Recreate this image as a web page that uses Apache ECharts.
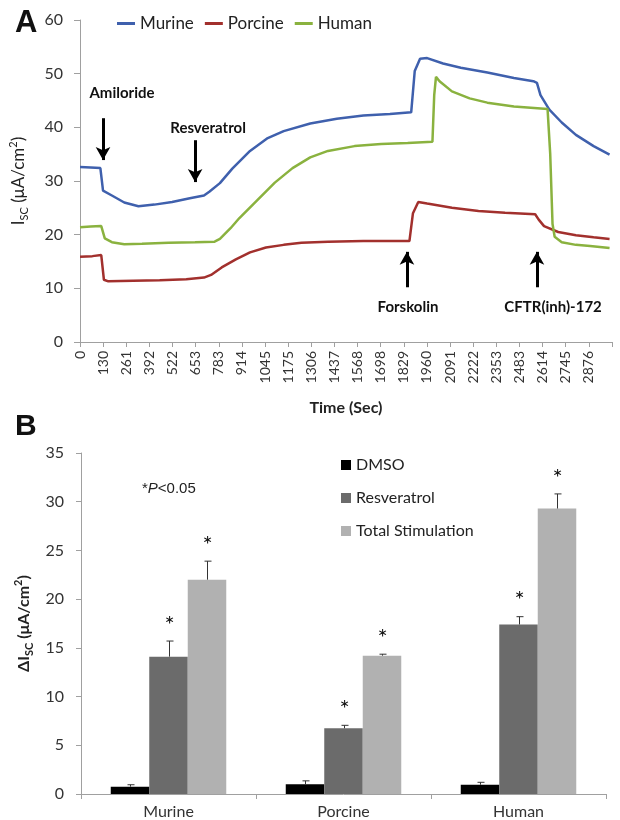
<!DOCTYPE html>
<html>
<head>
<meta charset="utf-8">
<script src="https://cdn.jsdelivr.net/npm/echarts@6/dist/echarts.min.js"></script>
<style>
html, body { margin: 0; padding: 0; background: #fff; }
#main { width: 620px; height: 820px; }
</style>
</head>
<body>
<div id="main"></div>
<script>
// panel A: short-circuit current traces (time in sec, Isc in uA/cm2)
var timeLabels = ['0','130','261','392','522','653','783','914','1045','1175','1306','1437',
	'1568','1698','1829','1960','2091','2222','2353','2483','2614','2745','2876'];
var murine = [[0,32.6],[60,32.5],[115,32.4],[130,28.2],[180,27.3],[250,26.0],[330,25.3],[420,25.6],
	[520,26.1],[620,26.8],[700,27.3],[730,28.0],[790,29.6],[860,32.3],[960,35.6],[1060,38.0],
	[1150,39.3],[1300,40.7],[1450,41.6],[1600,42.2],[1750,42.5],[1870,42.8],[1890,50.5],[1920,52.8],
	[1960,52.9],[2050,51.9],[2150,51.1],[2300,50.2],[2450,49.2],[2560,48.6],[2580,48.3],[2600,46.0],
	[2650,43.3],[2720,40.9],[2800,38.6],[2900,36.5],[2990,34.9]];
var porcine = [[0,15.9],[70,16.0],[120,16.2],[135,11.6],[160,11.3],[300,11.4],[450,11.5],[600,11.7],
	[700,12.0],[740,12.5],[800,13.9],[880,15.4],[960,16.7],[1050,17.6],[1150,18.1],[1250,18.5],
	[1400,18.7],[1600,18.8],[1860,18.8],[1880,24.0],[1910,26.1],[1960,25.8],[2100,25.0],[2250,24.4],
	[2400,24.1],[2570,23.8],[2590,22.8],[2620,21.6],[2700,20.5],[2800,19.9],[2900,19.5],[2990,19.2]];
var human = [[0,21.4],[60,21.5],[120,21.6],[140,19.3],[180,18.6],[250,18.2],[350,18.3],[500,18.5],
	[650,18.6],[760,18.7],[790,19.2],[850,21.2],[900,23.1],[1000,26.4],[1100,29.7],[1200,32.4],
	[1300,34.4],[1400,35.6],[1550,36.5],[1700,36.9],[1850,37.1],[1990,37.3],[2000,46.0],[2010,49.4],
	[2030,48.6],[2100,46.7],[2200,45.4],[2300,44.6],[2450,43.9],[2640,43.4],[2655,35.0],[2668,22.0],
	[2680,19.6],[2720,18.6],[2800,18.1],[2880,17.9],[2990,17.5]];
// drug additions: [label, time, arrow from, arrow to, label y, label x]
var additions = [
	['Amiloride', 130, 41.7, 33.9, 46.4, 237],
	['Resveratrol', 650, 37.6, 29.8, 39.9, 723],
	['Forskolin', 1846, 10.2, 16.8, 6.5, 1852],
	['CFTR(inh)-172', 2580, 10.2, 16.8, 6.5, 2671]
];

// panel B: delta Isc
var species = ['Murine', 'Porcine', 'Human'];
var dmso = [0.75, 1.0, 0.95];
var resveratrol = [14.1, 6.75, 17.4];
var totalStim = [22.0, 14.2, 29.3];
var dmsoErr = [0.2, 0.35, 0.25];
var resveratrolErr = [1.6, 0.3, 0.8];
var totalStimErr = [1.9, 0.15, 1.5];
var dmsoSig = [0, 0, 0];
var resveratrolSig = [1, 1, 1];
var totalStimSig = [1, 1, 1];

var FONT = 'Lato';
var GAP = 0.34;

function errData(vals, errs, sig) {
	return vals.map(function (v, i) { return [i, v, errs[i], sig[i]]; });
}

// error bar (upper half only) + significance star, drawn over each bar
function errSeries(name, vals, errs, sig, off) {
	return {
		type: 'custom',
		name: name + ' err',
		xAxisIndex: 1,
		yAxisIndex: 1,
		silent: true,
		z: 5,
		data: errData(vals, errs, sig),
		renderItem: function (params, api) {
			var cat = api.value(0), v = api.value(1), e = api.value(2), s = api.value(3);
			var band = api.size([1, 0])[0];
			var bw = band * (1 - GAP) / 3;
			var p = api.coord([cat, v]);
			var x = Math.round(p[0] + off * bw) + 0.5;
			var yTop = api.coord([cat, v + e])[1];
			var kids = [
				{ type: 'line', shape: { x1: x, y1: p[1], x2: x, y2: yTop }, style: { stroke: '#333', lineWidth: 1 } },
				{ type: 'line', shape: { x1: x - 3, y1: yTop, x2: x + 4, y2: yTop }, style: { stroke: '#333', lineWidth: 1 } }
			];
			if (s) {
				kids.push({ type: 'text', x: x, y: yTop - 4, style: { text: '*', fontSize: 24, fontFamily: FONT, fill: '#111', align: 'center', verticalAlign: 'bottom' } });
			}
			return { type: 'group', children: kids };
		}
	};
}

var axisGray = '#a0a0a0';
var labelColor = '#333';

var myChart = echarts.init(document.getElementById('main'));
var option = {
	animation: false,
	backgroundColor: '#fff',
	textStyle: { fontFamily: FONT },
	graphic: [
		{ type: 'text', left: 15, top: 8, style: { text: 'A', fontSize: 31, fontWeight: 'bold', fontFamily: 'Liberation Sans', fill: '#111' } },
		{ type: 'text', left: 15, top: 412, style: { text: 'B', fontSize: 30, fontWeight: 'bold', fontFamily: 'Liberation Sans', fill: '#111' } },
		{ type: 'text', left: 142, top: 481, style: { text: '*{i|P}<0.05', fontSize: 15, fontFamily: 'Liberation Sans', fill: '#222',
			rich: { i: { fontStyle: 'italic', fontSize: 15, fontFamily: 'Liberation Sans', fill: '#222' } } } }
	],
	legend: [
		{
			data: ['Murine', 'Porcine', 'Human'],
			left: 112, top: 10,
			icon: 'rect', itemWidth: 18, itemHeight: 3, itemGap: 11,
			textStyle: { fontSize: 17, color: '#222', fontFamily: FONT }
		},
		{
			data: ['DMSO', 'Resveratrol', 'Total Stimulation'],
			orient: 'vertical',
			left: 336, top: 452,
			icon: 'rect', itemWidth: 10, itemHeight: 10, itemGap: 17,
			textStyle: { fontSize: 16, color: '#222', fontFamily: FONT }
		}
	],
	grid: [
		{ left: 80, top: 20, width: 532, height: 322 },
		{ left: 81, top: 453, width: 525, height: 341 }
	],
	xAxis: [
		{
			type: 'value', gridIndex: 0, min: 0, max: 3003.8, interval: 130.6,
			name: 'Time (Sec)', nameLocation: 'middle', nameGap: 58,
			nameTextStyle: { fontSize: 16, fontWeight: 'bold', color: '#222', fontFamily: FONT },
			axisLine: { lineStyle: { color: axisGray } },
			axisTick: { show: true, length: 5, lineStyle: { color: axisGray } },
			splitLine: { show: false },
			axisLabel: {
				rotate: 90, fontSize: 14, color: labelColor, margin: 9, fontFamily: FONT,
				formatter: function (v, i) { return timeLabels[i] || ''; }
			}
		},
		{
			type: 'category', gridIndex: 1, data: species,
			axisLine: { lineStyle: { color: axisGray } },
			axisTick: { show: true, length: 5, lineStyle: { color: axisGray } },
			axisLabel: { fontSize: 16, color: labelColor, margin: 10, fontFamily: FONT }
		}
	],
	yAxis: [
		{
			type: 'value', gridIndex: 0, min: 0, max: 60, interval: 10,
			name: '{a|I}{b|SC}{a| (μA/cm}{c|2}{a|)}', nameLocation: 'middle', nameGap: 50, nameRotate: 90,
			nameTextStyle: {
				rich: {
					a: { fontSize: 17, color: '#222', fontFamily: FONT, lineHeight: 22, verticalAlign: 'middle' },
					b: { fontSize: 11, color: '#222', fontFamily: FONT, lineHeight: 22, verticalAlign: 'bottom', padding: [6, 0, 0, 0] },
					c: { fontSize: 11, color: '#222', fontFamily: FONT, lineHeight: 22, verticalAlign: 'top', padding: [0, 0, 8, 0] }
				}
			},
			axisLine: { show: true, lineStyle: { color: axisGray } },
			axisTick: { show: true, length: 6, lineStyle: { color: axisGray } },
			splitLine: { show: false },
			axisLabel: { fontSize: 16, color: labelColor, margin: 17, fontFamily: FONT }
		},
		{
			type: 'value', gridIndex: 1, min: 0, max: 35, interval: 5,
			name: '{a|ΔI}{b|SC}{a| (μA/cm}{c|2}{a|)}', nameLocation: 'middle', nameGap: 45, nameRotate: 90,
			nameTextStyle: {
				rich: {
					a: { fontSize: 16, fontWeight: 'bold', color: '#222', fontFamily: FONT, lineHeight: 22, verticalAlign: 'middle' },
					b: { fontSize: 11, fontWeight: 'bold', color: '#222', fontFamily: FONT, lineHeight: 22, verticalAlign: 'bottom', padding: [6, 0, 0, 0] },
					c: { fontSize: 11, fontWeight: 'bold', color: '#222', fontFamily: FONT, lineHeight: 22, verticalAlign: 'top', padding: [0, 0, 8, 0] }
				}
			},
			axisLine: { show: true, lineStyle: { color: axisGray } },
			axisTick: { show: true, length: 5, lineStyle: { color: axisGray } },
			splitLine: { show: false },
			axisLabel: { fontSize: 16, color: labelColor, margin: 17, fontFamily: FONT }
		}
	],
	series: [
		{ name: 'Murine', type: 'line', xAxisIndex: 0, yAxisIndex: 0, data: murine, showSymbol: false, symbol: 'none',
			lineStyle: { width: 2.5, color: '#3f60ad' }, itemStyle: { color: '#3f60ad' } },
		{ name: 'Porcine', type: 'line', xAxisIndex: 0, yAxisIndex: 0, data: porcine, showSymbol: false, symbol: 'none',
			lineStyle: { width: 2.5, color: '#a2302d' }, itemStyle: { color: '#a2302d' } },
		{ name: 'Human', type: 'line', xAxisIndex: 0, yAxisIndex: 0, data: human, showSymbol: false, symbol: 'none',
			lineStyle: { width: 2.5, color: '#8ab23f' }, itemStyle: { color: '#8ab23f' } },
		{
			name: 'additions', type: 'scatter', xAxisIndex: 0, yAxisIndex: 0, data: [], silent: true,
			markLine: {
				silent: true, animation: false,
				symbol: ['none', 'arrow'], symbolSize: [11, 13],
				lineStyle: { color: '#000', width: 3, type: 'solid' },
				label: { show: false },
				data: additions.map(function (a) { return [{ coord: [a[1], a[2]] }, { coord: [a[1], a[3]] }]; })
			},
			markPoint: {
				silent: true, animation: false,
				symbol: 'circle', symbolSize: 0,
				label: { show: true, position: 'inside', color: '#111', fontSize: 15, fontWeight: 'bold', fontFamily: FONT,
					formatter: function (p) { return p.name; } },
				data: additions.map(function (a) { return { name: a[0], coord: [a[5], a[4]] }; })
			}
		},
		{ name: 'DMSO', type: 'bar', xAxisIndex: 1, yAxisIndex: 1, data: dmso, barGap: 0, barCategoryGap: '34%',
			itemStyle: { color: '#000000' } },
		{ name: 'Resveratrol', type: 'bar', xAxisIndex: 1, yAxisIndex: 1, data: resveratrol, barGap: 0, barCategoryGap: '34%',
			itemStyle: { color: '#6b6b6b' } },
		{ name: 'Total Stimulation', type: 'bar', xAxisIndex: 1, yAxisIndex: 1, data: totalStim, barGap: 0, barCategoryGap: '34%',
			itemStyle: { color: '#b1b1b1' } },
		errSeries('DMSO', dmso, dmsoErr, dmsoSig, -1),
		errSeries('Resveratrol', resveratrol, resveratrolErr, resveratrolSig, 0),
		errSeries('Total Stimulation', totalStim, totalStimErr, totalStimSig, 1)
	]
};
myChart.setOption(option);
</script>
</body>
</html>
